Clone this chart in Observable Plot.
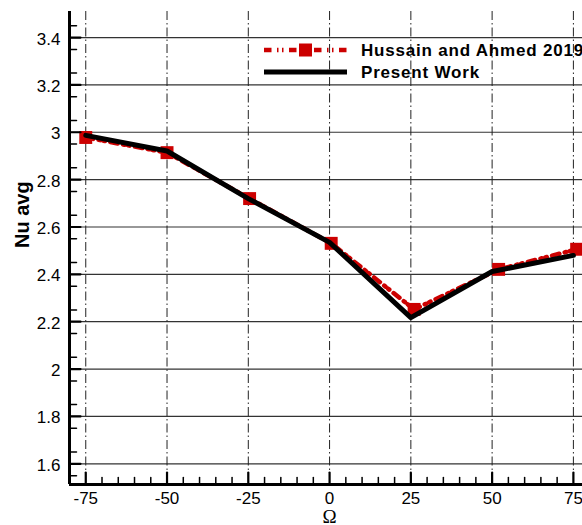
<!DOCTYPE html>
<html><head><meta charset="utf-8">
<script src="https://cdn.jsdelivr.net/npm/d3@7"></script>
<script src="https://cdn.jsdelivr.net/npm/@observablehq/plot@0.6"></script>
<style>
body{margin:0;background:#fff}
#chart{width:582px;height:525px;overflow:hidden;position:relative}
</style>
</head><body><div id="chart"></div>
<script>
// ---- data ----
const xDomain = [-80, 77.8];
const yDomain = [1.5126, 3.51];
const xTicks = [-75, -50, -25, 0, 25, 50, 75];
const xTickLabels = ["-75", "-50", "-25", "0", "25", "50", "75"];
const yTicks = [1.6, 1.8, 2.0, 2.2, 2.4, 2.6, 2.8, 3.0, 3.2, 3.4];
const yTickLabels = ["1.6", "1.8", "2", "2.2", "2.4", "2.6", "2.8", "3", "3.2", "3.4"];
const seriesNames = ["Hussain and Ahmed 2019", "Present Work"];
const hussainOmega = [-75, -50, -24.6, 0.5, 26, 52, 76];
const hussainNu = [2.978, 2.914, 2.72, 2.531, 2.252, 2.421, 2.506];
const presentOmega = [-75, -50, -25, 0, 25, 50, 75];
const presentNu = [2.987, 2.921, 2.72, 2.535, 2.217, 2.412, 2.48];
const xLabel = "Ω";
const yLabel = "Nu avg";

const xMinor = d3.range(-70, 75, 5).filter(v => !xTicks.includes(v));
const yMinor = d3.range(1.55, 3.52, 0.1).map(v => +v.toFixed(2));

const hussain = hussainOmega.map((x, i) => ({x, y: hussainNu[i]}));
const present = presentOmega.map((x, i) => ({x, y: presentNu[i]}));

const RED = "#cc0000";
const tickLine = {draw(ctx, l) { ctx.moveTo(0, 0); ctx.lineTo(0, -l); }};
const xMin = xDomain[0], yMin = yDomain[0];

const chart = Plot.plot({
  width: 582, height: 525,
  marginLeft: 69, marginRight: 0, marginTop: 11, marginBottom: 41,
  style: {fontFamily: "'Liberation Sans', Arial, sans-serif", background: "#fff"},
  x: {domain: xDomain},
  y: {domain: yDomain},
  marks: [
    Plot.ruleY(yTicks, {stroke: "#333", strokeWidth: 1.2}),
    Plot.ruleX(xTicks, {stroke: "#222", strokeWidth: 1, strokeDasharray: "9,3,1.5,3"}),
    Plot.line(hussain, {x: "x", y: "y", stroke: RED, strokeWidth: 4.5, strokeDasharray: "7.5,5.5,1.5,3.5,1.5,5.5"}),
    Plot.dot(hussain, {x: "x", y: "y", symbol: "square", r: 7.3, fill: RED, stroke: null}),
    Plot.line(present, {x: "x", y: "y", stroke: "#000", strokeWidth: 5}),
    // axis lines
    Plot.ruleX([xMin], {stroke: "#000", strokeWidth: 3}),
    Plot.ruleY([yMin], {stroke: "#000", strokeWidth: 3}),
    // inward ticks
    Plot.vector(yTicks, {x: () => xMin, y: d => d, length: 11, rotate: 90, anchor: "start", shape: tickLine, stroke: "#000", strokeWidth: 2.2}),
    Plot.vector(yMinor, {x: () => xMin, y: d => d, length: 7, rotate: 90, anchor: "start", shape: tickLine, stroke: "#000", strokeWidth: 1.5}),
    Plot.vector(xTicks, {x: d => d, y: () => yMin, length: 12, rotate: 0, anchor: "start", shape: tickLine, stroke: "#000", strokeWidth: 2.2}),
    Plot.vector(xMinor, {x: d => d, y: () => yMin, length: 7, rotate: 0, anchor: "start", shape: tickLine, stroke: "#000", strokeWidth: 1.5}),
    // tick labels
    Plot.axisY(yTicks, {tickSize: 0, tickPadding: 9, fontSize: 17, dy: 1.5, label: null,
      tickFormat: d => yTickLabels[yTicks.indexOf(d)]}),
    Plot.axisX(xTicks, {tickSize: 0, tickPadding: 7, fontSize: 17, label: null,
      tickFormat: d => xTickLabels[xTicks.indexOf(d)]}),
    // axis titles
    Plot.text([yLabel], {text: d => d, frameAnchor: "left", dx: -47, rotate: -90, fontSize: 20, fontWeight: "bold", fill: "#000"}),
    Plot.text([xLabel], {text: d => d, frameAnchor: "bottom", lineAnchor: "middle", dx: 3.5, dy: 32.5, fontSize: 19, fontFamily: "'Liberation Serif', 'DejaVu Serif', 'Times New Roman', serif", fill: "#000"})
  ]
});
document.getElementById("chart").appendChild(chart);

// legend inside plot area
const svg = d3.select(chart);
const lg = svg.append("g").attr("class", "legend").attr("text-anchor", "start");
const legendRows = [
  {name: seriesNames[0], y: 50, stroke: RED, width: 4.5, dash: "7.5,5.5,1.5,3.5,1.5,5.5", marker: true},
  {name: seriesNames[1], y: 72, stroke: "#000", width: 5, dash: null, marker: false}
];
legendRows.forEach(r => {
  lg.append("line").attr("x1", 264).attr("x2", 347).attr("y1", r.y).attr("y2", r.y)
    .attr("stroke", r.stroke).attr("stroke-width", r.width)
    .attr("stroke-dasharray", r.dash);
  if (r.marker) lg.append("rect").attr("x", 299).attr("y", r.y - 6.5).attr("width", 13).attr("height", 13).attr("fill", RED);
  lg.append("text").attr("x", 361).attr("y", r.y + 5.5).text(r.name)
    .attr("text-anchor", "start")
    .attr("font-size", 17).attr("font-weight", "bold").attr("letter-spacing", 0.8)
    .attr("font-family", "'Liberation Sans', Arial, sans-serif").attr("fill", "#000");
});
</script></body></html>
